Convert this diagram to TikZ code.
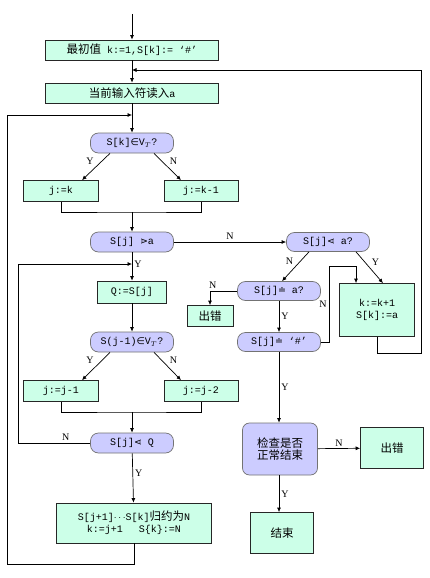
\documentclass[tikz,border=0pt]{standalone}
\usepackage{fontspec}
\setmainfont{Liberation Mono}
\newfontfamily\cjk{Noto Sans CJK SC}[Scale=1.15]
\newfontfamily\sym{DejaVu Sans}[Scale=0.95]
\newfontfamily\lblfont{Liberation Serif}
\usetikzlibrary{arrows.meta,calc}
\definecolor{mint}{RGB}{204,255,232}
\definecolor{lav}{RGB}{204,204,255}

\begin{document}
\begin{tikzpicture}[x=1pt, y=-1pt, line width=0.7pt, font=\fontsize{10}{12}\selectfont,
  box/.style={draw=black!85, fill=mint, align=center, minimum width=75pt, minimum height=21pt, inner sep=1pt},
  cond/.style={draw=black!55, fill=lav, rounded corners=8pt, align=center, minimum width=83pt, minimum height=20pt, inner sep=1pt},
  arr/.style={-{Latex[length=4.5pt,width=4pt]}},
  lbl/.style={font=\lblfont\fontsize{10}{11}\selectfont, inner sep=2pt}
]
\useasboundingbox[fill=white] (0,0) rectangle (430,578);

% left column
\node[box, minimum width=173pt, minimum height=20pt] (init) at (132,50) {{\cjk 最初值} k:=1,S[k]:= ‘\#’};
\node[box, minimum width=173pt, minimum height=20pt] (read) at (132,93) {{\cjk 当前输入符读入}a};
\node[cond] (c1) at (132,143) {S[k]{\sym ∈}V$_{T}$?};
\node[box] (jk) at (61,191) {j:=k};
\node[box, minimum width=74pt] (jk1) at (201,191) {j:=k-1};
\node[cond] (c2) at (132,242) {S[j] {\sym ⋗}a};
\node[box, minimum width=69pt, minimum height=22pt] (q) at (132,292) {Q:=S[j]};
\node[cond] (c6) at (132,342) {S(j-1){\sym ∈}V$_{T}$?};
\node[box] (jj1) at (61,391) {j:=j-1};
\node[box, minimum width=74pt] (jj2) at (201,391) {j:=j-2};
\node[cond] (c7) at (132,443) {S[j]{\sym ⋖} Q};
\node[box, minimum width=155pt, minimum height=40pt] (reduce) at (134,523) {S[j+1]$\cdots$S[k]{\cjk 归约为}N\\k:=j+1\quad\ S\{k\}:=N};

% right column
\node[cond, minimum height=19pt] (c3) at (328,242) {S[j]{\sym ⋖} a?};
\node[cond, minimum height=19pt] (c4) at (279,291) {S[j]{\sym ≐} a?};
\node[box, minimum width=46pt] (err1) at (210,316) {\cjk 出错};
\node[box, minimum height=53pt] (push) at (377,310) {k:=k+1\\S[k]:=a};
\node[cond, minimum height=19pt] (c5) at (279,342) {S[j]{\sym ≐} ‘\#’};
\node[cond, rounded corners=7pt, minimum width=75pt, minimum height=52pt] (check) at (280,449) {\cjk 检查是否\\\cjk 正常结束};
\node[box, minimum width=63pt, minimum height=41pt] (err2) at (392,448) {\cjk 出错};
\node[box, minimum width=63pt, minimum height=41pt] (done) at (282,533) {\cjk 结束};

\coordinate (top) at (132,14);
\coordinate (j1) at (132,70);
\coordinate (j2) at (132,115);
\coordinate (j3) at (132,264);
\coordinate (m1) at (132,212);
\coordinate (m2) at (132,412);
\coordinate (lloop) at (7,564);
\coordinate (nloop) at (18,443);
\coordinate (rloop) at (421,353);
\coordinate (n1) at (329,266);

\draw[arr] (top) -- (init);
\draw[arr] (init) -- (read);
\draw[arr] (read) -- (c1);
\draw[arr] ([xshift=-22pt]c1.south) -- node[lbl, above left]{Y} ([xshift=21pt]jk.north);
\draw[arr] ([xshift=22pt]c1.south) -- node[lbl, above right]{N} ([xshift=-20pt]jk1.north);
\draw (jk.south) |- (m1) -| (jk1.south);
\draw[arr] (m1) -- (c2);
\draw[arr] (c2) -- node[lbl, right, pos=0.42]{Y} (q);
\draw[arr] (q) -- (c6);
\draw[arr] ([xshift=-22pt]c6.south) -- node[lbl, above left]{Y} ([xshift=21pt]jj1.north);
\draw[arr] ([xshift=22pt]c6.south) -- node[lbl, above right]{N} ([xshift=-20pt]jj2.north);
\draw (jj1.south) |- (m2) -| (jj2.south);
\draw[arr] (m2) -- (c7);
\draw[arr] (c7) -- node[lbl, right, pos=0.4]{Y} (reduce);
\draw[arr] (c7.west) -- node[lbl, above, pos=0.34]{N} (nloop) |- (j3);
\draw[arr] (reduce.south) |- (lloop) |- (j2);

\draw[arr] (c2) -- node[lbl, above]{N} (c3);
\draw[arr] ([xshift=-19pt]c3.south) -- node[lbl, above left]{N} ([xshift=3pt]c4.north);
\draw[arr] ([xshift=28pt]c3.south) -- node[lbl, above right]{Y} ([xshift=6pt]push.north);
\draw[arr] (c4.west) -| node[lbl, above, pos=0.45]{N} (err1.north);
\draw[arr] (c4) -- node[lbl, right]{Y} (c5);
\draw[arr] (c5.east) -- (c5.east -| n1) -- node[lbl, left]{N} (n1) -| ([xshift=-21pt]push.north);
\draw[arr] (push.south) |- (rloop) |- (j1);
\draw[arr] (c5) -- node[lbl, right]{Y} (c5 |- check.north);
\draw[arr] (check) -- node[lbl, above]{N} (err2);
\draw[arr] (c5 |- check.south) -- node[lbl, right]{Y} (c5 |- done.north);
\end{tikzpicture}
\end{document}
